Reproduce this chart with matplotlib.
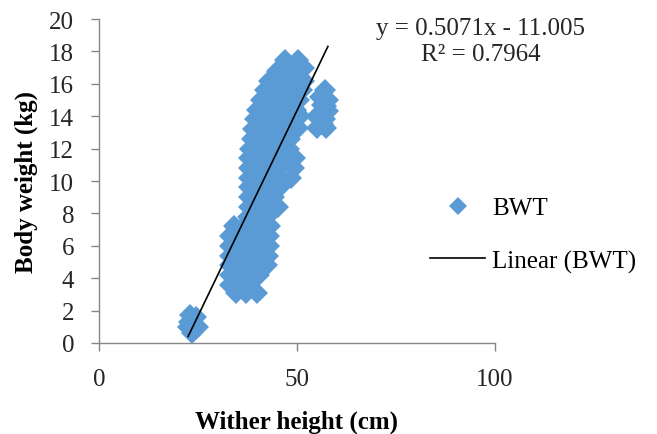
import matplotlib
matplotlib.use("Agg")
import matplotlib.pyplot as plt
import numpy as np

plt.rcParams['font.family'] = ['Liberation Serif', 'DejaVu Serif']

# wither height (cm) and body weight (kg)
wither_cm = [
    # small animals
    22.5, 23.0, 24.5, 25.0, 23.5, 24.0, 23.5, 22.8, 24.3,
    # lower blob
    34.5, 37.0, 40.0,
    33.2, 35.5, 38.0,
    33.0, 35.5, 38.0, 40.5,
    33.0, 35.5, 38.0, 40.5, 42.4,
    33.0, 35.5, 38.0, 40.5, 42.8,
    33.0, 35.5, 38.0, 40.5, 43.0,
    33.2, 35.5, 38.0, 40.5, 43.0,
    34.0, 36.5, 39.0, 41.5, 43.2,
    # middle
    37.6, 40.0, 42.5,
    37.8, 40.3, 42.8, 45.3,
    38.0, 40.5, 43.0, 44.2,
    38.0, 40.5, 43.0, 45.8,
    38.0, 40.5, 43.0, 45.5, 48.5,
    38.0, 40.5, 43.0, 45.5, 49.2,
    38.0, 40.5, 43.0, 45.5, 48.0, 49.5,
    38.2, 40.7, 43.2, 45.7, 48.0,
    38.6, 41.0, 43.5, 46.0, 48.2,
    # upper
    39.0, 41.5, 44.0, 46.5, 48.5, 50.3,
    39.3, 41.8, 44.3, 46.8, 49.3, 50.8,
    39.8, 42.3, 44.8, 47.3, 49.8,
    40.8, 43.3, 45.8, 48.3, 50.5,
    41.8, 44.3, 46.8, 49.3, 51.3,
    43.0, 45.5, 48.0, 50.5, 51.8,
    45.0, 47.5, 50.0, 51.8,
    47.0, 50.3,
    # right group
    57.1, 57.8, 57.8, 56.6, 55.1, 57.4, 55.0, 56.2, 55.8,
    56.5, 56.8, 57.0, 55.5, 56.2, 57.3,
]
body_kg = [
    1.0, 1.7, 1.6, 1.0, 0.6, 1.2, 1.4, 1.3, 0.9,
    3.1, 3.1, 3.1,
    3.6, 3.6, 3.6,
    4.2, 4.2, 4.2, 4.2,
    4.8, 4.8, 4.8, 4.8, 4.8,
    5.4, 5.4, 5.4, 5.4, 5.4,
    6.0, 6.0, 6.0, 6.0, 6.0,
    6.6, 6.6, 6.6, 6.6, 6.6,
    7.2, 7.2, 7.2, 7.2, 7.2,
    7.8, 7.8, 7.8,
    8.4, 8.4, 8.4, 8.4,
    9.0, 9.0, 9.0, 9.0,
    9.6, 9.6, 9.6, 9.6,
    10.2, 10.2, 10.2, 10.2, 10.2,
    10.8, 10.8, 10.8, 10.8, 10.8,
    11.4, 11.4, 11.4, 11.4, 11.4, 11.4,
    12.0, 12.0, 12.0, 12.0, 12.0,
    12.6, 12.6, 12.6, 12.6, 12.6,
    13.2, 13.2, 13.2, 13.2, 13.2, 13.3,
    13.8, 13.8, 13.8, 13.8, 13.8, 14.0,
    14.4, 14.4, 14.4, 14.4, 14.4,
    15.0, 15.0, 15.0, 15.0, 15.0,
    15.6, 15.6, 15.6, 15.6, 15.6,
    16.2, 16.2, 16.2, 16.2, 16.2,
    16.8, 16.8, 16.8, 17.0,
    17.5, 17.5,
    15.6, 15.0, 14.3, 13.5, 13.3, 13.3, 14.0, 14.7, 15.2,
    14.0, 15.0, 13.8, 13.8, 13.5, 14.6,
]

slope = 0.5071
intercept = -11.005
r_squared = 0.7964

x_ticks = [0, 50, 100]
y_ticks = list(range(0, 21, 2))

fig = plt.figure(figsize=(6.57, 4.35), dpi=100)
ax = fig.add_axes([0.1507, 0.2092, 0.6027, 0.7448])

ax.plot(wither_cm, body_kg, linestyle='none', marker='D', ms=11.5,
        color='#5B9BD5', mew=0, label='BWT')

# trendline over the data range
tx = np.array([min(wither_cm), max(wither_cm)])
ax.plot(tx, slope * tx + intercept, color='black', lw=1.2, label='Linear (BWT)')

ax.set_xlim(0, 100)
ax.set_ylim(0, 20)
ax.set_xticks(x_ticks)
ax.set_yticks(y_ticks)

for side in ['top', 'right']:
    ax.spines[side].set_visible(False)
for side in ['left', 'bottom']:
    ax.spines[side].set_color('#868686')
    ax.spines[side].set_linewidth(1.0)
ax.tick_params(direction='out', length=6, width=1, color='#868686',
               labelsize=18, pad=12, labelcolor='#262626')

ax.set_xlabel('Wither height (cm)', fontsize=18, fontweight='bold', labelpad=14)
ax.set_ylabel('Body weight (kg)', fontsize=18, fontweight='bold', labelpad=8)

eq = 'y = %.4fx - %.3f\nR² = %.4f' % (slope, -intercept, r_squared)
fig.text(0.732, 0.903, eq, ha='center', va='center', fontsize=18,
         linespacing=1.25, color='#262626')

leg = ax.legend(loc='upper left', bbox_to_anchor=(430 / 657, 0.545),
                bbox_transform=fig.transFigure, frameon=False, fontsize=18,
                handlelength=2.2, handletextpad=0.3, labelspacing=1.2,
                borderpad=0, borderaxespad=0, numpoints=1, markerscale=0.8)

fig.savefig('out.png', dpi=100)
